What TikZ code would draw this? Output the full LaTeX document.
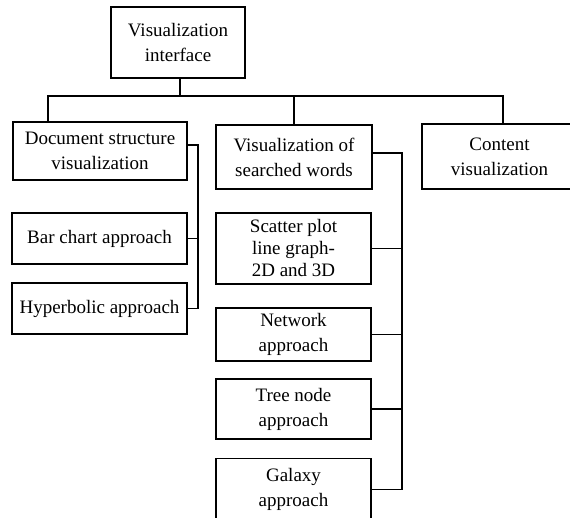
\documentclass[tikz,border=0pt]{standalone}
\usepackage{fontspec}
\setmainfont{Liberation Serif}
\begin{document}
\begin{tikzpicture}[x=1pt,y=-1pt,
  box/.style={draw, line width=1.7pt, rectangle, align=center, inner sep=0pt,
    font=\fontsize{19}{25}\selectfont},
  tight/.style={font=\fontsize{19}{22}\selectfont},
  link/.style={line width=1.7pt}]
\useasboundingbox (0,0) rectangle (570,518);

% hierarchy boxes
\node[box, minimum width=134, minimum height=71] (top) at (178,42.5) {Visualization\\interface};
\node[box, minimum width=174, minimum height=58] (doc) at (100,151) {Document structure\\visualization};
\node[box, minimum width=156, minimum height=64] (vis) at (294,157) {Visualization of\\searched words};
\node[box, minimum width=155, minimum height=65] (content) at (499.5,156.5) {Content\\visualization};

\node[box, minimum width=175, minimum height=51] (bar) at (99.5,238.5) {Bar chart approach};
\node[box, minimum width=175, minimum height=51] (hyper) at (99.5,308.5) {Hyperbolic approach};

\node[box, tight, minimum width=155, minimum height=71] (scatter) at (293.5,248.5) {Scatter plot\\line graph-\\2D and 3D};
\node[box, minimum width=155, minimum height=53] (network) at (293.5,334.5) {Network\\approach};
\node[box, minimum width=155, minimum height=60] (tree) at (293.5,409) {Tree node\\approach};
\node[box, minimum width=155, minimum height=62] (galaxy) at (293.5,489.5) {Galaxy\\approach};

% bus under the root
\coordinate (bus) at (180,96);
\draw[link] (top.south -| bus) -- (bus);
\draw[link] ([xshift=-52pt]doc.north) |- (bus) -| ([xshift=3.5pt]content.north);
\draw[link] (vis.north) -- (vis.north |- bus);

% branch of document structure visualization
\coordinate (dspine) at (198,0);
\draw[link] ([yshift=6pt]doc.east) -| (dspine |- hyper.east) -- (hyper.east);
\draw[link] (bar.east) -- (dspine |- bar.east);

% branch of searched words visualization
\coordinate (vspine) at (402,0);
\draw[link] ([yshift=4pt]vis.east) -| (vspine |- galaxy.east) -- (galaxy.east);
\draw[link] (scatter.east) -- (vspine |- scatter.east);
\draw[link] (network.east) -- (vspine |- network.east);
\draw[link] (tree.east) -- (vspine |- tree.east);
\end{tikzpicture}
\end{document}
